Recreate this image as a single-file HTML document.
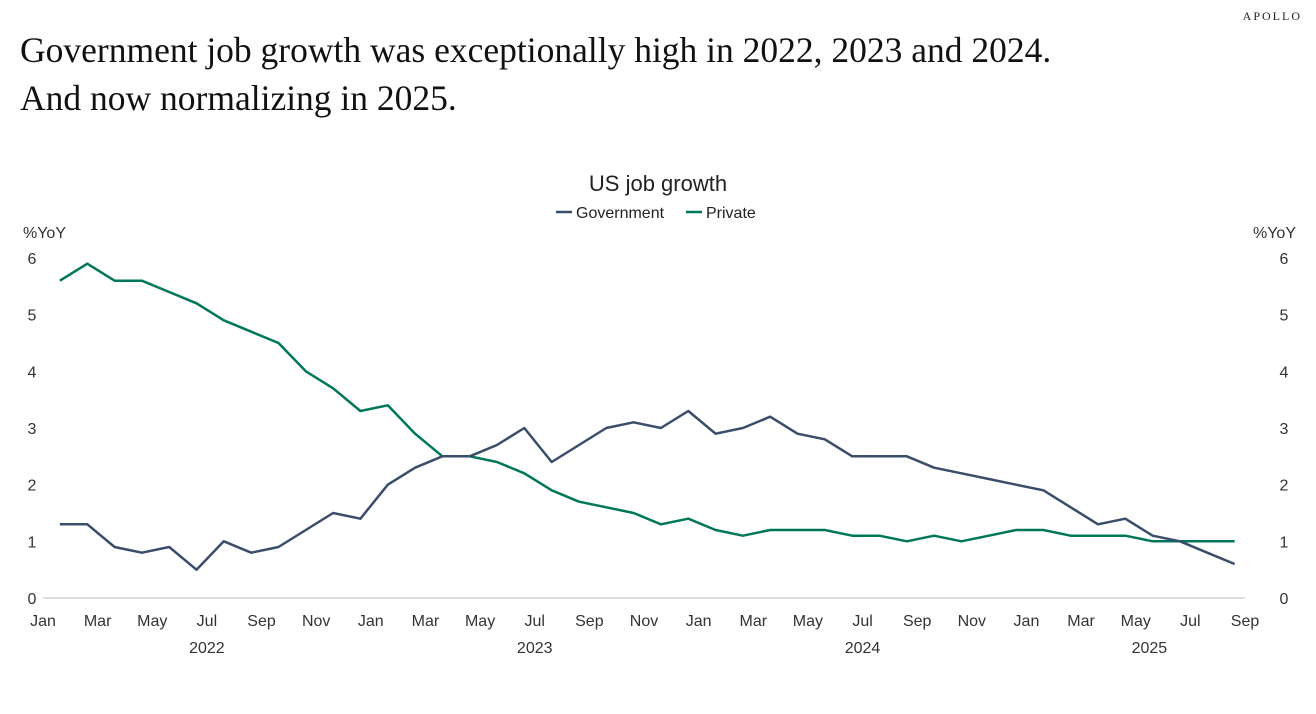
<!DOCTYPE html>
<html><head><meta charset="utf-8"><style>
body{margin:0;background:#fff;width:1316px;height:714px;overflow:hidden;position:relative;font-family:"Liberation Sans","DejaVu Sans",sans-serif}
.t{position:absolute;left:20px;font-family:"Liberation Serif",serif;font-size:35.5px;color:#111;line-height:48px}
</style></head><body>
<div style="position:absolute;right:14px;top:9px;font-family:'Liberation Serif',serif;font-size:12px;letter-spacing:2px;color:#222">APOLLO</div>
<div class="t" style="top:26px">Government job growth was exceptionally high in 2022, 2023 and 2024.<br>And now normalizing in 2025.</div>
<svg id="c" width="1316" height="714" style="position:absolute;left:0;top:0"></svg>
<script>
const govValues=[1.3,1.3,0.9,0.8,0.9,0.5,1.0,0.8,0.9,1.2,1.5,1.4, 2.0,2.3,2.5,2.5,2.7,3.0,2.4,2.7,3.0,3.1,3.0,3.3, 2.9,3.0,3.2,2.9,2.8,2.5,2.5,2.5,2.3,2.2,2.1,2.0, 1.9,1.6,1.3,1.4,1.1,1.0,0.8,0.6];
const privValues=[5.6,5.9,5.6,5.6,5.4,5.2,4.9,4.7,4.5,4.0,3.7,3.3, 3.4,2.9,2.5,2.5,2.4,2.2,1.9,1.7,1.6,1.5,1.3,1.4, 1.2,1.1,1.2,1.2,1.2,1.1,1.1,1.0,1.1,1.0,1.1,1.2, 1.2,1.1,1.1,1.1,1.0,1.0,1.0,1.0];
const monthLabels=["Jan","Mar","May","Jul","Sep","Nov"];
const yearLabels=["2022","2023","2024","2025"];
const yTicks=[0,1,2,3,4,5,6];
const NS="http://www.w3.org/2000/svg",svg=document.getElementById('c');
const x0=43,x1=1245,n=govValues.length,bw=(x1-x0)/n;
const xb=i=>x0+i*bw, xc=i=>x0+(i+0.62)*bw;
const y=v=>598-v*(340/6);
function mk(t,a,txt){const e=document.createElementNS(NS,t);for(const k in a)e.setAttribute(k,a[k]);if(txt!==undefined)e.textContent=txt;svg.appendChild(e);return e;}
let e=mk('text',{x:658,y:191,'text-anchor':'middle','font-size':22,fill:'#222'},'US job growth');

e=mk('line',{x1:556,x2:572,y1:212,y2:212,stroke:'#3a4d6b','stroke-width':2.5});

e=mk('text',{x:576,y:218,'font-size':16,fill:'#222'},'Government');

e=mk('line',{x1:686,x2:702,y1:212,y2:212,stroke:'#00775a','stroke-width':2.5});

e=mk('text',{x:706,y:218,'font-size':16,fill:'#222'},'Private');

e=mk('text',{x:23,y:238,'font-size':16,fill:'#333'},'%YoY');

e=mk('text',{x:1296,y:238,'font-size':16,fill:'#333','text-anchor':'end'},'%YoY');

yTicks.forEach(v=>{
 e=mk('text',{x:32,y:y(v)+6,'font-size':16,fill:'#333','text-anchor':'middle'},v);
 
 e=mk('text',{x:1284,y:y(v)+6,'font-size':16,fill:'#333','text-anchor':'middle'},v);
 
});
e=mk('line',{x1:x0,x2:x1,y1:598,y2:598,stroke:'#bbb','stroke-width':1});

for(let i=0;i<=n;i+=2){
 e=mk('text',{x:xb(i),y:626,'font-size':16,fill:'#333','text-anchor':'middle'},monthLabels[(i/2)%6]);
 
}
yearLabels.forEach((yr,k)=>{
 const s=k*12,en=Math.min(s+12,n+1);
 e=mk('text',{x:(xb(s)+xb(en))/2,y:653,'font-size':16,fill:'#333','text-anchor':'middle'},yr);
 
});
function line(vals,col,name){
 const d=vals.map((v,i)=>(i?'L':'M')+xc(i).toFixed(1)+','+y(v).toFixed(1)).join('');
 const p=mk('path',{d:d,fill:'none',stroke:col,'stroke-width':2.5,'stroke-linejoin':'round'});
 
 
}
line(privValues,'#00775a','private-line');
line(govValues,'#3a4d6b','government-line');
</script>
</body></html>
